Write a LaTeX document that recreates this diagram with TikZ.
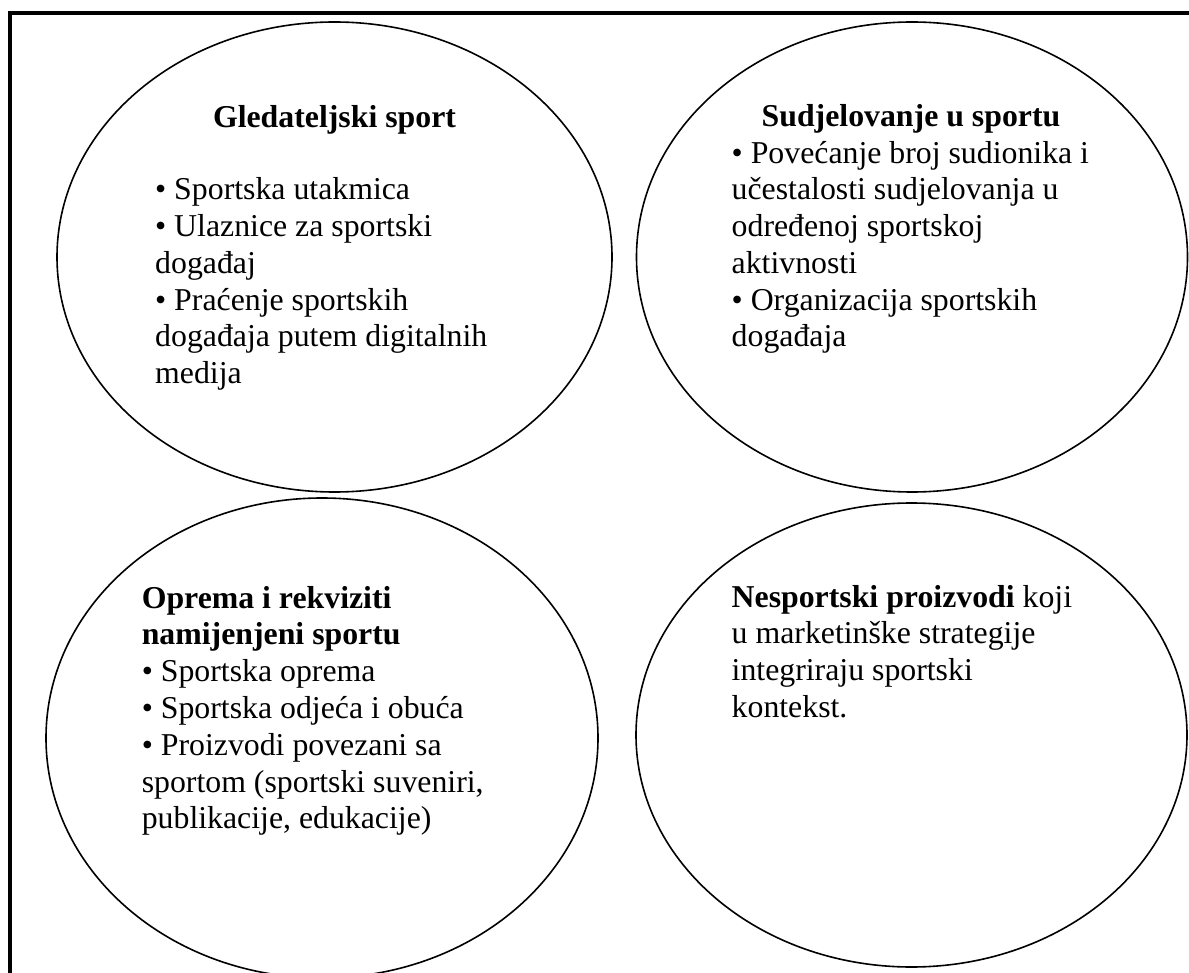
\documentclass[tikz,border=0pt]{standalone}
\usepackage{fontspec}
\setmainfont{Liberation Serif}
\usetikzlibrary{shapes.geometric}
\tikzset{
  oval/.style={ellipse, draw=black, line width=1.6pt, inner sep=0pt},
  frame/.style={draw=black, line width=3.2pt},
  ln/.style={anchor=base west, inner sep=0pt, font=\fontsize{31.8}{36.7}\selectfont},
  ttl/.style={anchor=base, inner sep=0pt, font=\fontsize{31.8}{36.7}\selectfont\bfseries},
  ttlw/.style={anchor=base west, inner sep=0pt, font=\fontsize{31.8}{36.7}\selectfont\bfseries}
}
\begin{document}
\begin{tikzpicture}[x=1pt,y=-1pt]
\useasboundingbox (0,0) rectangle (1189,973);
\clip (0,0) rectangle (1189,973);
\fill[white] (0,0) rectangle (1189,973);
\draw[frame] (10,13) rectangle (1210,1000);
% ellipses
\node[oval, minimum width=555pt, minimum height=470pt] (e1) at (334.5,257) {};
\node[oval, minimum width=551pt, minimum height=470pt] (e2) at (912,257) {};
\node[oval, minimum width=552pt, minimum height=480pt] (e3) at (322,738) {};
\node[oval, minimum width=551pt, minimum height=464pt] (e4) at (911.5,735) {};
% block 1
\node[ttl] (t1) at (334.5,128) {Gledateljski sport};
\node[ln] (a1) at (155,200) {• Sportska utakmica};
\node[ln] (a2) at (155,236.7) {• Ulaznice za sportski};
\node[ln] (a3) at (155,273.4) {događaj};
\node[ln] (a4) at (155,310.1) {• Praćenje sportskih};
\node[ln] (a5) at (155,346.8) {događaja putem digitalnih};
\node[ln] (a6) at (155,383.5) {medija};
% block 2
\node[ttl] (t2) at (911,127) {Sudjelovanje u sportu};
\node[ln] (b1) at (731.5,163.3) {• Povećanje broj sudionika i};
\node[ln] (b2) at (731.5,200) {učestalosti sudjelovanja u};
\node[ln] (b3) at (731.5,236.7) {određenoj sportskoj};
\node[ln] (b4) at (731.5,273.4) {aktivnosti};
\node[ln] (b5) at (731.5,310.1) {• Organizacija sportskih};
\node[ln] (b6) at (731.5,346.8) {događaja};
% block 3
\node[ttlw] (t3a) at (141.6,608) {Oprema i rekviziti};
\node[ttlw] (t3b) at (141.6,644.8) {namijenjeni sportu};
\node[ln] (c1) at (141.6,681.6) {• Sportska oprema};
\node[ln] (c2) at (141.6,718.4) {• Sportska odjeća i obuća};
\node[ln] (c3) at (141.6,755.2) {• Proizvodi povezani sa};
\node[ln] (c4) at (141.6,792) {sportom (sportski suveniri,};
\node[ln] (c5) at (141.6,828.8) {publikacije, edukacije)};
% block 4
\node[ln] (d1) at (731.5,607) {\textbf{Nesportski proizvodi} koji};
\node[ln] (d2) at (731.5,643.7) {u marketinške strategije};
\node[ln] (d3) at (731.5,680.4) {integriraju sportski};
\node[ln] (d4) at (731.5,717.1) {kontekst.};
\end{tikzpicture}
\end{document}
